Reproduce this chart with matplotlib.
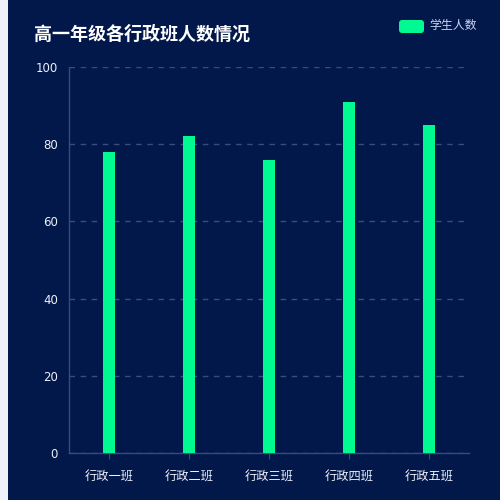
import matplotlib
matplotlib.use('Agg')
import matplotlib.pyplot as plt
from matplotlib.patches import FancyBboxPatch, Rectangle

plt.rcParams['font.family'] = ['Noto Sans CJK SC', 'DejaVu Sans']

# data
classes = ['行政一班', '行政二班', '行政三班', '行政四班', '行政五班']
students = [78, 82, 76, 91, 85]
yticks = [0, 20, 40, 60, 80, 100]

bg = '#02174a'
bar_color = '#00f991'
axis_color = '#3a4a7c'
grid_color = '#3b4b7a'
text_color = '#eef1f8'

fig = plt.figure(figsize=(5, 5), dpi=100, facecolor=bg)
ax = fig.add_axes([0.138, 0.094, 0.8, 0.772])
ax.set_facecolor(bg)

# light strip at left edge
fig.patches.append(Rectangle((0, 0), 8 / 500, 1, transform=fig.transFigure,
                             facecolor='#eef1f7', edgecolor='none', zorder=10))

x = range(len(classes))
ax.bar(x, students, width=0.15, color=bar_color, zorder=3)

ax.set_xlim(-0.5, len(classes) - 0.5)
ax.set_ylim(0, 100)
ax.set_yticks(yticks)
ax.set_xticks(list(x))
ax.set_xticklabels(classes)

for s in ['top', 'right']:
    ax.spines[s].set_visible(False)
for s in ['left', 'bottom']:
    ax.spines[s].set_color(axis_color)
    ax.spines[s].set_linewidth(1)

ax.yaxis.grid(True, color=grid_color, linestyle=(0, (4, 4)), linewidth=1)
ax.set_axisbelow(True)

ax.tick_params(axis='y', length=0, pad=8, labelsize=8.5, labelcolor=text_color)
ax.tick_params(axis='x', length=4, color=axis_color, pad=9, labelsize=8.8,
               labelcolor=text_color)
for lab in ax.get_yticklabels():
    lab.set_family('DejaVu Sans')

fig.text(34 / 500, 1 - 34 / 500, '高一年级各行政班人数情况', color='white',
         fontsize=13, fontweight='bold', va='center', ha='left')

# legend
fig.patches.append(FancyBboxPatch((399 / 500, 1 - 33 / 500), 25 / 500, 13 / 500,
                                  boxstyle='round,pad=0,rounding_size=0.006',
                                  transform=fig.transFigure, facecolor=bar_color,
                                  edgecolor='none'))
fig.text(429 / 500, 1 - 26 / 500, '学生人数', color='#c9d5f0', fontsize=8.6,
         va='center', ha='left')

fig.savefig('out.png', dpi=100, facecolor=bg)
